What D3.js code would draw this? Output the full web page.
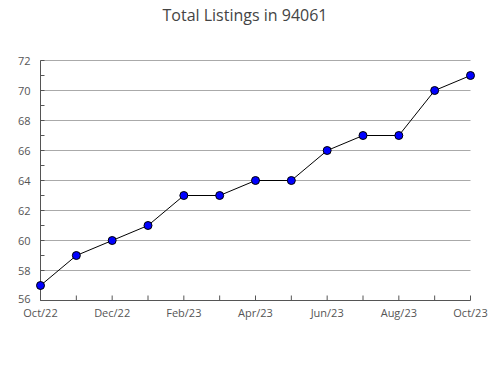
<!DOCTYPE html>
<html>
<head>
<meta charset="utf-8">
<script src="https://cdn.jsdelivr.net/npm/d3@7"></script>
<style>
  body { margin: 0; background: #fff; }
  text { font-family: "Open Sans", sans-serif; }
</style>
</head>
<body>
<svg id="chart" width="490" height="380"></svg>
<script>
// chart data
var months = ["Oct/22", "Nov/22", "Dec/22", "Jan/23", "Feb/23", "Mar/23", "Apr/23",
              "May/23", "Jun/23", "Jul/23", "Aug/23", "Sep/23", "Oct/23"]
var listings = [57, 59, 60, 61, 63, 63, 64, 64, 66, 67, 67, 70, 71]
var xLabels = ["Oct/22", "Dec/22", "Feb/23", "Apr/23", "Jun/23", "Aug/23", "Oct/23"]
var yTicks = [56, 58, 60, 62, 64, 66, 68, 70, 72]
var yMinor = [57, 59, 61, 63, 65, 67, 69, 71]

var svg = d3.select("#chart")
var plotLeft = 40.5, plotRight = 470.5, plotTop = 60.5, plotBottom = 300.5

var x = d3.scalePoint().domain(months).range([plotLeft, plotRight])
var y = d3.scaleLinear().domain([56, 72]).range([plotBottom, plotTop])

svg.append("text")
    .attr("x", 245).attr("y", 21)
    .attr("text-anchor", "middle")
    .style("font-size", "16px")
    .style("fill", "#444")
    .text("Total Listings in 94061")

// gridlines
svg.append("g").selectAll("line")
    .data(yTicks.slice(1))
    .join("line")
    .attr("x1", plotLeft).attr("x2", plotRight)
    .attr("y1", d => y(d)).attr("y2", d => y(d))
    .attr("stroke", "#aaa").attr("stroke-width", 1)

// y axis
var yAxis = svg.append("g")
yAxis.append("line")
    .attr("x1", plotLeft).attr("x2", plotLeft).attr("y1", plotTop).attr("y2", plotBottom)
    .attr("stroke", "#555")
yAxis.selectAll("line.tick")
    .data(yTicks.concat(yMinor))
    .join("line").attr("class", "tick")
    .attr("x1", plotLeft).attr("x2", plotLeft + 4)
    .attr("y1", d => y(d)).attr("y2", d => y(d))
    .attr("stroke", "#555")
yAxis.selectAll("text")
    .data(yTicks)
    .join("text")
    .attr("x", plotLeft - 10).attr("y", (d, i) => y(d) + (i == 0 ? 2 : 4))
    .attr("text-anchor", "end")
    .style("font-size", "11px").style("fill", "#555")
    .text(d => d)

// x axis
var xAxis = svg.append("g")
xAxis.append("line")
    .attr("x1", plotLeft).attr("x2", plotRight).attr("y1", plotBottom).attr("y2", plotBottom)
    .attr("stroke", "#555")
xAxis.selectAll("line.tick")
    .data(months)
    .join("line").attr("class", "tick")
    .attr("x1", d => x(d)).attr("x2", d => x(d))
    .attr("y1", plotBottom).attr("y2", plotBottom - 5)
    .attr("stroke", "#555")
xAxis.selectAll("text")
    .data(xLabels)
    .join("text")
    .attr("x", d => x(d)).attr("y", plotBottom + 16)
    .attr("text-anchor", "middle")
    .style("font-size", "11px").style("fill", "#555")
    .text(d => d)

// line + markers
var pts = months.map((m, i) => ({ m: m, v: listings[i] }))
svg.append("path")
    .datum(pts)
    .attr("fill", "none")
    .attr("stroke", "#000").attr("stroke-width", 1)
    .attr("d", d3.line().x(d => x(d.m)).y(d => y(d.v)))

svg.append("g").selectAll("circle")
    .data(pts)
    .join("circle")
    .attr("cx", d => x(d.m)).attr("cy", d => y(d.v))
    .attr("r", 4)
    .attr("fill", "#0000ff")
    .attr("stroke", "#000").attr("stroke-width", 1)
</script>
</body>
</html>
